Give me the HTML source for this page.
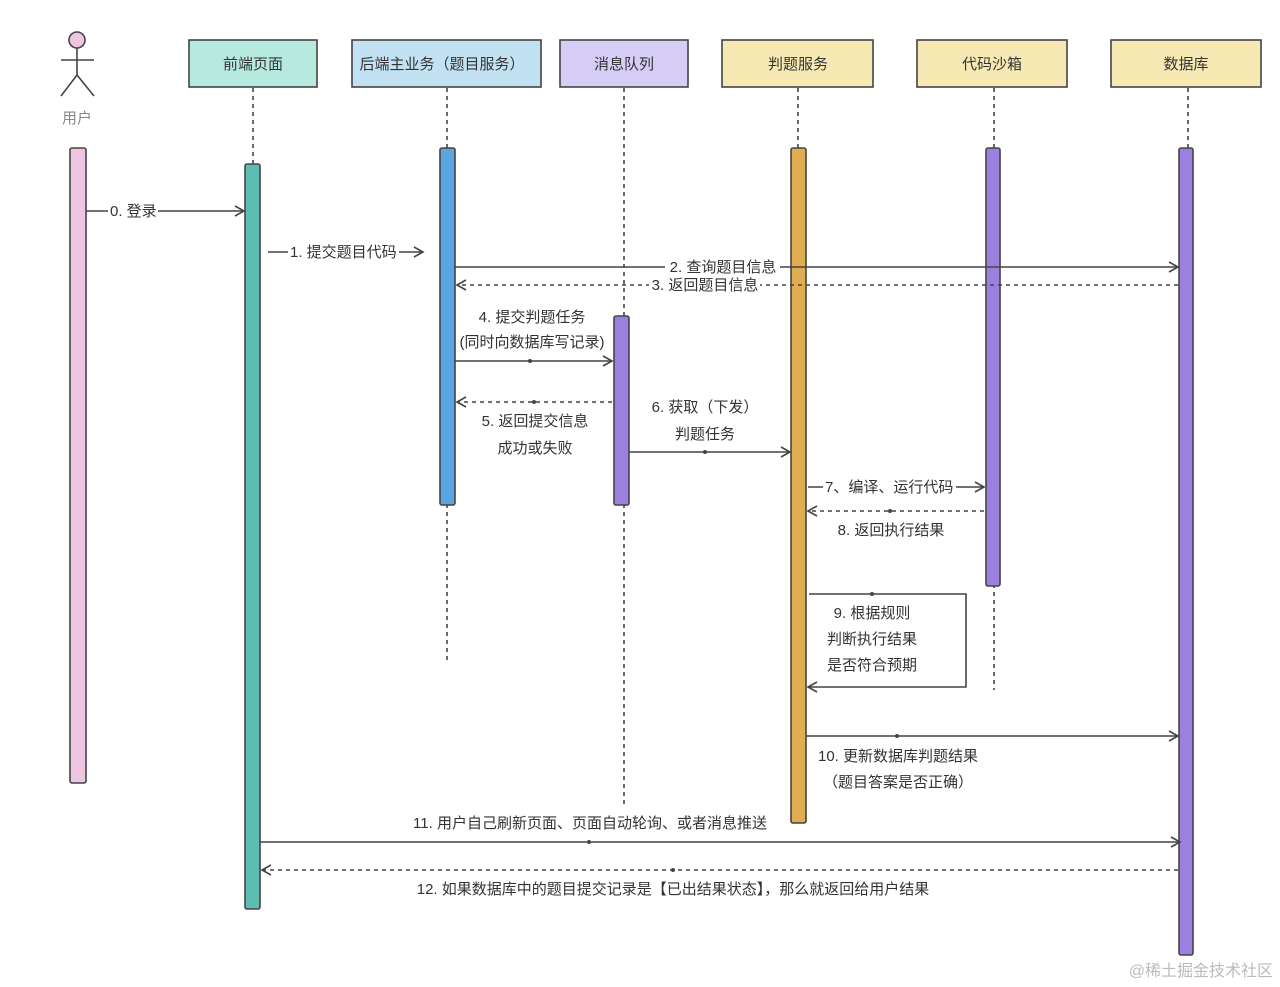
<!DOCTYPE html>
<html><head><meta charset="utf-8"><style>
html,body{margin:0;padding:0;background:#fff;}
svg{display:block;}
text{font-family:"Liberation Sans","Noto Sans CJK SC",sans-serif;font-size:15px;fill:#333;}
</style></head><body>
<svg width="1280" height="987" viewBox="0 0 1280 987" xmlns="http://www.w3.org/2000/svg">
<defs>
<marker id="a" markerWidth="12" markerHeight="12" refX="10" refY="6" orient="auto" markerUnits="userSpaceOnUse">
<path d="M1,1 L10,6 L1,11" fill="none" stroke="#444" stroke-width="1.6"/></marker>
</defs>
<!-- actor -->
<g stroke="#444" stroke-width="1.6" fill="none">
<circle cx="77" cy="40" r="8" fill="#efc6e1"/>
<line x1="77" y1="48" x2="77" y2="75"/>
<line x1="61" y1="60" x2="94" y2="60"/>
<line x1="77" y1="75" x2="61" y2="96"/>
<line x1="77" y1="75" x2="94" y2="96"/>
</g>
<text x="77" y="123" text-anchor="middle" style="fill:#888">用户</text>
<!-- boxes -->
<g stroke="#444" stroke-width="1.6">
<rect x="189" y="40" width="128" height="47" fill="#b6eadf"/>
<rect x="352" y="40" width="189" height="47" fill="#c2e2f4"/>
<rect x="560" y="40" width="128" height="47" fill="#d6cdf6"/>
<rect x="722" y="40" width="151" height="47" fill="#f7e9b4"/>
<rect x="917" y="40" width="150" height="47" fill="#f7e9b4"/>
<rect x="1111" y="40" width="150" height="47" fill="#f7e9b4"/>
</g>
<g text-anchor="middle">
<text x="253" y="69">前端页面</text>
<text x="442" y="69">后端主业务（题目服务）</text>
<text x="624" y="69">消息队列</text>
<text x="798" y="69">判题服务</text>
<text x="992" y="69">代码沙箱</text>
<text x="1186" y="69">数据库</text>
</g>
<!-- lifelines -->
<g stroke="#444" stroke-width="1.6" stroke-dasharray="4,4">
<line x1="253" y1="88" x2="253" y2="164"/>
<line x1="447" y1="88" x2="447" y2="662"/>
<line x1="624" y1="88" x2="624" y2="805"/>
<line x1="798" y1="88" x2="798" y2="148"/>
<line x1="994" y1="88" x2="994" y2="690"/>
<line x1="1188" y1="88" x2="1188" y2="148"/>
</g>
<!-- bars -->
<g stroke="#444" stroke-width="1.6">
<rect x="70" y="148" width="16" height="635" rx="2" fill="#efc6e1"/>
<rect x="245" y="164" width="15" height="745" rx="2" fill="#5ebdb3"/>
<rect x="440" y="148" width="15" height="357" rx="2" fill="#5aa6e0"/>
<rect x="614" y="316" width="15" height="189" rx="2" fill="#9b80e0"/>
<rect x="791" y="148" width="15" height="675" rx="2" fill="#e0ae50"/>
<rect x="986" y="148" width="14" height="438" rx="2" fill="#9b80e0"/>
<rect x="1179" y="148" width="14" height="807" rx="2" fill="#9b80e0"/>
</g>
<!-- arrows -->
<g stroke="#444" stroke-width="1.6" fill="none">
<line x1="86" y1="211" x2="244" y2="211" marker-end="url(#a)"/>
<line x1="268" y1="252" x2="423" y2="252" marker-end="url(#a)"/>
<line x1="455" y1="267" x2="1178" y2="267" marker-end="url(#a)"/>
<line x1="1178" y1="285" x2="457" y2="285" stroke-dasharray="4,4" marker-end="url(#a)"/>
<line x1="455" y1="361" x2="612" y2="361" marker-end="url(#a)"/>
<line x1="612" y1="402" x2="457" y2="402" stroke-dasharray="4,4" marker-end="url(#a)"/>
<line x1="629" y1="452" x2="790" y2="452" marker-end="url(#a)"/>
<line x1="808" y1="487" x2="984" y2="487" marker-end="url(#a)"/>
<line x1="984" y1="511" x2="808" y2="511" stroke-dasharray="4,4" marker-end="url(#a)"/>
<polyline points="809,594 966,594 966,687 808,687" marker-end="url(#a)"/>
<line x1="806" y1="736" x2="1178" y2="736" marker-end="url(#a)"/>
<line x1="260" y1="842" x2="1180" y2="842" marker-end="url(#a)"/>
<line x1="1178" y1="870" x2="262" y2="870" stroke-dasharray="4,4" marker-end="url(#a)"/>
</g>
<g fill="#444">
<circle cx="530" cy="361" r="2"/><circle cx="534" cy="402" r="2"/><circle cx="705" cy="452" r="2"/>
<circle cx="890" cy="511" r="2"/><circle cx="872" cy="594" r="2"/><circle cx="897" cy="736" r="2"/>
<circle cx="589" cy="842" r="2"/><circle cx="673" cy="870" r="2"/>
</g>
<!-- label backgrounds -->
<g fill="#fff">
<rect x="108" y="202" width="50" height="18"/>
<rect x="288" y="243" width="111" height="18"/>
<rect x="665" y="258" width="115" height="18"/>
<rect x="649" y="276" width="111" height="18"/>
<rect x="823" y="478" width="133" height="18"/>
</g>
<text x="110" y="216">0. 登录</text>
<text x="290" y="257">1. 提交题目代码</text>
<text x="723" y="272" text-anchor="middle">2. 查询题目信息</text>
<text x="705" y="290" text-anchor="middle">3. 返回题目信息</text>
<text x="825" y="492">7、编译、运行代码</text>
<g text-anchor="middle">
<text x="532" y="322">4. 提交判题任务</text>
<text x="532" y="347">(同时向数据库写记录)</text>
<text x="535" y="426">5. 返回提交信息</text>
<text x="535" y="453">成功或失败</text>
<text x="705" y="412">6. 获取（下发）</text>
<text x="705" y="439">判题任务</text>
<text x="891" y="535">8. 返回执行结果</text>
<text x="872" y="618">9. 根据规则</text>
<text x="872" y="644">判断执行结果</text>
<text x="872" y="670">是否符合预期</text>
<text x="898" y="761">10. 更新数据库判题结果</text>
<text x="898" y="787">（题目答案是否正确）</text>
<text x="590" y="828">11. 用户自己刷新页面、页面自动轮询、或者消息推送</text>
<text x="673" y="894">12. 如果数据库中的题目提交记录是【已出结果状态】，那么就返回给用户结果</text>
</g>
<text x="1273" y="976" text-anchor="end" style="fill:#bbb;font-size:16px">@稀土掘金技术社区</text>
</svg>
</body></html>
